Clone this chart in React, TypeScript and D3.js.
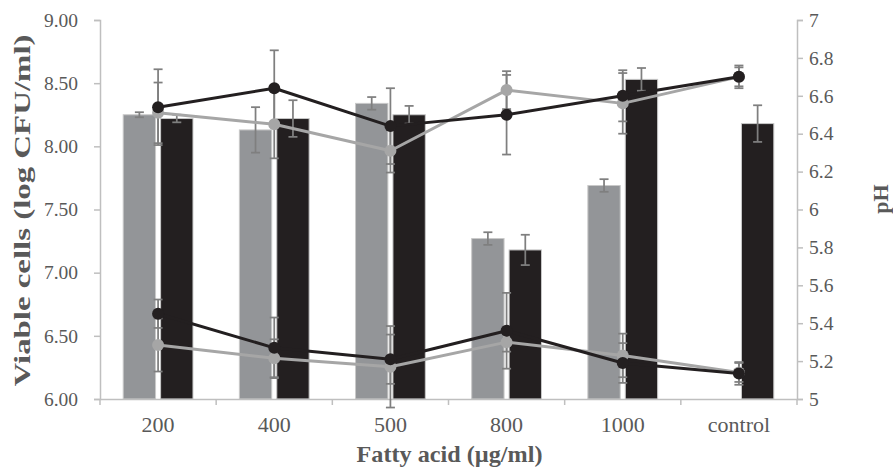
import { useRef, useEffect } from "react";
import * as d3 from "d3";

// Fatty acid concentrations on the x axis
const categories = ["200", "400", "500", "800", "1000", "control"];

// Viable cells (log CFU/ml), bars on the left axis
const cellsGray: (number | null)[] = [8.25, 8.13, 8.34, 7.27, 7.69, null];
const cellsGrayErr: (number | null)[] = [0.02, 0.18, 0.05, 0.05, 0.05, null];
const cellsBlack = [8.22, 8.22, 8.25, 7.18, 8.53, 8.18];
const cellsBlackErr = [0.03, 0.145, 0.07, 0.12, 0.09, 0.145];

// pH, lines on the right axis
const phGrayHigh = [6.51, 6.45, 6.31, 6.63, 6.56, 6.7];
const phGrayHighErr = [0.16, 0.18, 0.115, 0.1, 0.16, 0.05];
const phBlackHigh = [6.54, 6.64, 6.44, 6.5, 6.6, 6.7];
const phBlackHighErr = [0.2, 0.2, 0.2, 0.21, 0.135, 0.06];
const phGrayLow = [5.285, 5.215, 5.17, 5.3, 5.23, 5.14];
const phGrayLowErr = [0.14, 0.1, 0.215, 0.05, 0.115, 0.05];
const phBlackLow = [5.45, 5.27, 5.21, 5.36, 5.19, 5.135];
const phBlackLowErr = [0.075, 0.16, 0.13, 0.2, 0.105, 0.06];

const leftTicks = [6, 6.5, 7, 7.5, 8, 8.5, 9];
const rightTicks = [5, 5.2, 5.4, 5.6, 5.8, 6, 6.2, 6.4, 6.6, 6.8, 7];

const GRAY = "#939598";
const BLACK = "#231f20";
const LINE_GRAY = "#a6a6a6";
const ERR = "#7f7f7f";
const AXIS = "#bfbfbf";
const TEXT = "#595959";
const FONT = "'Liberation Serif', 'Times New Roman', serif";

export default function App() {
  const svgRef = useRef<SVGSVGElement>(null);

  useEffect(() => {
    if (!svgRef.current) return;
    const width = 893;
    const height = 471;
    const plot = { left: 100, right: 797, top: 20, bottom: 399 };

    const svg = d3.select(svgRef.current);
    svg.selectAll("*").remove();

    const x = d3
      .scaleBand<string>()
      .domain(categories)
      .range([plot.left, plot.right])
      .paddingInner(0)
      .paddingOuter(0);

    const xSub = d3
      .scaleBand<string>()
      .domain(["gray", "black"])
      .range([0, x.bandwidth()])
      .paddingInner(0.135)
      .paddingOuter(0.62);

    const yL = d3.scaleLinear().domain([6, 9]).range([plot.bottom, plot.top]);
    const yR = d3.scaleLinear().domain([5, 7]).range([plot.bottom, plot.top]);

    const g = svg.append("g");

    // Bars
    const barSeries = [
      { key: "gray", vals: cellsGray, errs: cellsGrayErr, color: GRAY },
      { key: "black", vals: cellsBlack, errs: cellsBlackErr, color: BLACK },
    ];
    for (const s of barSeries) {
      const rows = categories
        .map((c, i) => ({ c, v: s.vals[i], e: s.errs[i] }))
        .filter((d) => d.v != null) as { c: string; v: number; e: number }[];
      g.append("g")
        .selectAll("rect")
        .data(rows)
        .join("rect")
        .attr("x", (d) => x(d.c)! + xSub(s.key)!)
        .attr("y", (d) => yL(d.v))
        .attr("width", xSub.bandwidth())
        .attr("height", (d) => yL(6) - yL(d.v))
        .attr("fill", s.color)
        .attr("stroke", "#c9c9c9")
        .attr("stroke-width", 1);

      // error bars on bars
      const eg = g.append("g").attr("stroke", ERR).attr("stroke-width", 1.75);
      for (const d of rows) {
        const cx = x(d.c)! + xSub(s.key)! + xSub.bandwidth() / 2;
        const y1 = yL(d.v + d.e);
        const y2 = yL(d.v - d.e);
        eg.append("line").attr("x1", cx).attr("x2", cx).attr("y1", y1).attr("y2", y2);
        eg.append("line").attr("x1", cx - 4.5).attr("x2", cx + 4.5).attr("y1", y1).attr("y2", y1);
        eg.append("line").attr("x1", cx - 4.5).attr("x2", cx + 4.5).attr("y1", y2).attr("y2", y2);
      }
    }

    // Axes
    const axisL = g
      .append("g")
      .attr("transform", `translate(${plot.left},0)`)
      .call(
        d3
          .axisLeft(yL)
          .tickValues(leftTicks)
          .tickSize(6)
          .tickPadding(16)
          .tickFormat((d) => d3.format(".2f")(d as number))
      );
    const axisR = g
      .append("g")
      .attr("transform", `translate(${plot.right},0)`)
      .call(
        d3
          .axisRight(yR)
          .tickValues(rightTicks)
          .tickSize(6)
          .tickPadding(6)
          .tickFormat((d) => String(+(d as number).toFixed(1)))
      );
    const axisB = g
      .append("g")
      .attr("transform", `translate(0,${plot.bottom})`)
      .call(d3.axisBottom(x).tickSize(0).tickPadding(20));

    // category boundary ticks
    const bounds = d3.range(categories.length + 1).map((i) => plot.left + i * x.step());
    axisB
      .append("g")
      .selectAll("line")
      .data(bounds)
      .join("line")
      .attr("x1", (d) => d)
      .attr("x2", (d) => d)
      .attr("y1", 0)
      .attr("y2", 6)
      .attr("stroke", AXIS)
      .attr("stroke-width", 1.5);

    for (const ax of [axisL, axisR, axisB]) {
      ax.select(".domain").attr("stroke", AXIS).attr("stroke-width", 1.5);
      ax.selectAll(".tick line").attr("stroke", AXIS).attr("stroke-width", 1.5);
      ax.selectAll("text")
        .attr("fill", TEXT)
        .style("font-family", FONT)
        .style("font-size", "19.5px");
      ax.attr("font-family", null).attr("font-size", null);
    }
    axisB
      .selectAll(".tick text")
      .style("font-size", "22px")
      .attr("dy", null)
      .attr("y", 33);

    // pH error bars
    const lineSeries = [
      { vals: phGrayHigh, errs: phGrayHighErr, color: LINE_GRAY },
      { vals: phGrayLow, errs: phGrayLowErr, color: LINE_GRAY },
      { vals: phBlackHigh, errs: phBlackHighErr, color: BLACK },
      { vals: phBlackLow, errs: phBlackLowErr, color: BLACK },
    ];
    const leg = g.append("g").attr("stroke", ERR).attr("stroke-width", 1.75);
    for (const s of lineSeries) {
      categories.forEach((c, i) => {
        const cx = x(c)! + x.bandwidth() / 2;
        const y1 = yR(s.vals[i] + s.errs[i]);
        const y2 = yR(s.vals[i] - s.errs[i]);
        leg.append("line").attr("x1", cx).attr("x2", cx).attr("y1", y1).attr("y2", y2);
        leg.append("line").attr("x1", cx - 4.5).attr("x2", cx + 4.5).attr("y1", y1).attr("y2", y1);
        leg.append("line").attr("x1", cx - 4.5).attr("x2", cx + 4.5).attr("y1", y2).attr("y2", y2);
      });
    }

    // pH lines + markers
    const line = d3
      .line<number>()
      .x((_, i) => x(categories[i])! + x.bandwidth() / 2)
      .y((d) => yR(d));
    for (const s of lineSeries) {
      g.append("path")
        .attr("d", line(s.vals))
        .attr("fill", "none")
        .attr("stroke", s.color)
        .attr("stroke-width", 3)
        .attr("stroke-linejoin", "round");
      g.append("g")
        .selectAll("circle")
        .data(s.vals)
        .join("circle")
        .attr("cx", (_, i) => x(categories[i])! + x.bandwidth() / 2)
        .attr("cy", (d) => yR(d))
        .attr("r", 6)
        .attr("fill", s.color);
    }

    // Axis titles
    svg
      .append("text")
      .attr("transform", `translate(30,${(plot.top + plot.bottom) / 2 + 1}) rotate(-90)`)
      .attr("text-anchor", "middle")
      .attr("fill", TEXT)
      .attr("textLength", 352)
      .attr("lengthAdjust", "spacingAndGlyphs")
      .style("font-family", FONT)
      .style("font-size", "23px")
      .style("font-weight", "bold")
      .text("Viable cells (log CFU/ml)");
    svg
      .append("text")
      .attr("transform", `translate(888,199) rotate(-90)`)
      .attr("text-anchor", "middle")
      .attr("fill", TEXT)
      .style("font-family", FONT)
      .style("font-size", "22px")
      .style("font-weight", "bold")
      .text("pH");
    svg
      .append("text")
      .attr("x", (plot.left + plot.right) / 2 + 1)
      .attr("y", 462)
      .attr("text-anchor", "middle")
      .attr("fill", TEXT)
      .attr("textLength", 186)
      .attr("lengthAdjust", "spacingAndGlyphs")
      .style("font-family", FONT)
      .style("font-size", "23px")
      .style("font-weight", "bold")
      .text("Fatty acid (µg/ml)");

    svg.attr("width", width).attr("height", height);
  }, []);

  return (
    <div style={{ position: "absolute", left: 0, top: 0, background: "#fff" }}>
      <svg ref={svgRef} width={893} height={471} style={{ display: "block" }} />
    </div>
  );
}
